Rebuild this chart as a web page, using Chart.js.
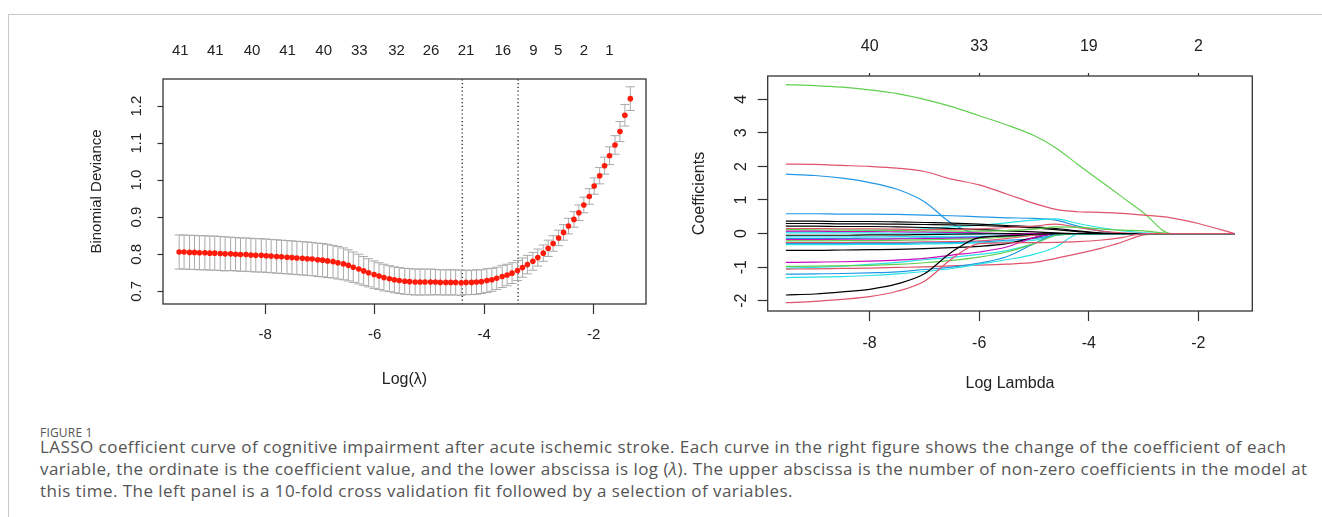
<!DOCTYPE html>
<html>
<head>
<meta charset="utf-8">
<script src="https://cdn.jsdelivr.net/npm/chart.js@4.4.1/dist/chart.umd.min.js"></script>
<style>
    body { margin: 0; background: #fff; width: 1322px; height: 517px; overflow: hidden; position: relative; }
    #panelIzq { position: absolute; left: 0; top: 0; }
    #panelDer { position: absolute; left: 660px; top: 0; }
    #marco { position: absolute; left: 8px; top: 14px; width: 1320px; height: 520px; border-left: 1px solid #c8c8c8; border-top: 1px solid #c8c8c8; }
    #rotulo { position: absolute; left: 40px; top: 424px; font: 12px "Open Sans", sans-serif; color: #555; letter-spacing: 0.2px; }
    #leyenda { position: absolute; left: 40px; top: 436px; width: 1280px; font: 17px/22px "Open Sans", sans-serif; color: #555; letter-spacing: 0.45px; white-space: nowrap; }
</style>
</head>
<body>
<div id="marco"></div>
<canvas id="panelIzq" width="660" height="400"></canvas>
<canvas id="panelDer" width="662" height="400"></canvas>
<div id="rotulo">FIGURE 1</div>
<div id="leyenda">LASSO coefficient curve of cognitive impairment after acute ischemic stroke. Each curve in the right figure shows the change of the coefficient of each<br>variable, the ordinate is the coefficient value, and the lower abscissa is log (<i>λ</i>). The upper abscissa is the number of non-zero coefficients in the model at<br>this time. The left panel is a 10-fold cross validation fit followed by a selection of variables.</div>

<script>
// Panel izquierdo: validacion cruzada
const logLambda = [
    -9.57, -9.48, -9.38, -9.29, -9.20, -9.10, -9.01, -8.92, -8.82, -8.73,
    -8.63, -8.54, -8.45, -8.35, -8.26, -8.17, -8.07, -7.98, -7.89, -7.79,
    -7.70, -7.60, -7.51, -7.42, -7.32, -7.23, -7.14, -7.04, -6.95, -6.86,
    -6.76, -6.67, -6.57, -6.48, -6.39, -6.29, -6.20, -6.11, -6.01, -5.92,
    -5.83, -5.73, -5.64, -5.55, -5.45, -5.36, -5.26, -5.17, -5.08, -4.98,
    -4.89, -4.80, -4.70, -4.61, -4.52, -4.42, -4.33, -4.23, -4.14, -4.05,
    -3.95, -3.86, -3.77, -3.67, -3.58, -3.49, -3.39, -3.30, -3.21, -3.11,
    -3.02, -2.92, -2.83, -2.74, -2.64, -2.55, -2.46, -2.36, -2.27, -2.18,
    -2.08, -1.99, -1.89, -1.80, -1.71, -1.61, -1.52, -1.43, -1.33
];
const cvMedia = [
    0.806, 0.806, 0.805, 0.805, 0.804, 0.804, 0.803, 0.803, 0.802, 0.801,
    0.801, 0.800, 0.799, 0.799, 0.798, 0.797, 0.797, 0.796, 0.795, 0.794,
    0.793, 0.792, 0.791, 0.790, 0.789, 0.788, 0.787, 0.785, 0.784, 0.782,
    0.780, 0.777, 0.774, 0.770, 0.765, 0.760, 0.755, 0.750, 0.745, 0.741,
    0.737, 0.734, 0.731, 0.729, 0.727, 0.726, 0.725, 0.725, 0.725, 0.725,
    0.725, 0.724, 0.724, 0.724, 0.724, 0.723, 0.724, 0.724, 0.725, 0.726,
    0.729, 0.731, 0.735, 0.740, 0.744, 0.749, 0.756, 0.764, 0.772, 0.781,
    0.791, 0.803, 0.816, 0.829, 0.844, 0.859, 0.876, 0.894, 0.912, 0.933,
    0.956, 0.984, 1.012, 1.039, 1.066, 1.095, 1.131, 1.175, 1.220
];
const cvError = [
    0.046, 0.046, 0.046, 0.046, 0.046, 0.046, 0.046, 0.046, 0.046, 0.046,
    0.045, 0.045, 0.045, 0.045, 0.045, 0.045, 0.045, 0.045, 0.045, 0.045,
    0.045, 0.045, 0.045, 0.045, 0.045, 0.045, 0.045, 0.045, 0.045, 0.045,
    0.044, 0.044, 0.043, 0.042, 0.041, 0.040, 0.039, 0.038, 0.037, 0.036,
    0.036, 0.035, 0.035, 0.035, 0.035, 0.035, 0.035, 0.035, 0.035, 0.035,
    0.034, 0.034, 0.034, 0.034, 0.034, 0.034, 0.033, 0.033, 0.033, 0.032,
    0.032, 0.031, 0.030, 0.030, 0.029, 0.028, 0.027, 0.026, 0.025, 0.024,
    0.023, 0.022, 0.022, 0.021, 0.021, 0.021, 0.021, 0.021, 0.021, 0.021,
    0.021, 0.022, 0.022, 0.023, 0.024, 0.025, 0.027, 0.029, 0.032
];
const lambdaMin = -4.40;
const lambda1se = -3.38;
const topPosIzq = [-9.55, -8.91, -8.24, -7.59, -6.93, -6.28, -5.60, -4.97, -4.33, -3.66, -3.10, -2.65, -2.18, -1.71];
const topNumIzq = ["41", "41", "40", "41", "40", "33", "32", "26", "21", "16", "9", "5", "2", "1"];
const ticksX = [-8, -6, -4, -2];
const ticksYIzq = [0.7, 0.8, 0.9, 1.0, 1.1, 1.2];

// Panel derecho: trayectorias de coeficientes
const nudosLogLambda = [-9.53, -9.0, -8.5, -8.0, -7.5, -7.0, -6.5, -6.0, -5.5, -5.0, -4.6, -4.2, -3.8, -3.4, -3.0, -2.5, -2.0, -1.34];
const topPosDer = [-8, -6, -4, -2];
const topNumDer = ["40", "33", "19", "2"];
const ticksYDer = [-2, -1, 0, 1, 2, 3, 4];
const coefColores = [
    "#61D04F", "#DF536B", "#2297E6", "#2297E6", "#28E2E5", "#000000", "#000000", "#000000", "#DF536B", "#61D04F",
    "#CD0BBC", "#28E2E5", "#000000", "#28E2E5", "#2297E6", "#CD0BBC", "#61D04F", "#DF536B", "#2297E6", "#28E2E5",
    "#000000", "#CD0BBC", "#28E2E5", "#DF536B", "#2297E6", "#28E2E5", "#61D04F", "#000000", "#DF536B"
];
const coefTrayectorias = [
    [4.44, 4.41, 4.36, 4.28, 4.17, 4.00, 3.78, 3.51, 3.24, 2.92, 2.55, 2.06, 1.58, 1.10, 0.62, 0, 0, 0],
    [2.07, 2.06, 2.03, 2.00, 1.95, 1.85, 1.62, 1.45, 1.18, 0.90, 0.72, 0.65, 0.63, 0.60, 0.55, 0.47, 0.30, 0],
    [1.77, 1.73, 1.65, 1.52, 1.32, 0.95, 0.30, 0, 0, 0, 0, 0, 0, 0, 0, 0, 0, 0],
    [0.59, 0.59, 0.58, 0.58, 0.57, 0.55, 0.53, 0.50, 0.47, 0.45, 0.40, 0.22, 0.08, 0.01, 0, 0, 0, 0],
    [0.05, 0.05, 0.06, 0.08, 0.10, 0.14, 0.20, 0.25, 0.32, 0.40, 0.44, 0.30, 0.18, 0.09, 0.02, 0, 0, 0],
    [0.37, 0.37, 0.36, 0.36, 0.35, 0.33, 0.31, 0.28, 0.24, 0.20, 0.15, 0.08, 0.02, 0, 0, 0, 0, 0],
    [0.30, 0.30, 0.29, 0.29, 0.28, 0.27, 0.26, 0.24, 0.21, 0.17, 0.12, 0.06, 0.01, 0, 0, 0, 0, 0],
    [0.22, 0.22, 0.21, 0.21, 0.20, 0.18, 0.15, 0.12, 0.08, 0.05, 0.02, 0, 0, 0, 0, 0, 0, 0],
    [0.15, 0.15, 0.14, 0.14, 0.13, 0.12, 0.12, 0.14, 0.18, 0.22, 0.28, 0.18, 0.08, 0.02, 0, 0, 0, 0],
    [0.12, 0.11, 0.10, 0.10, 0.09, 0.08, 0.07, 0.07, 0.09, 0.13, 0.20, 0.19, 0.14, 0.10, 0.08, 0, 0, 0],
    [0.07, 0.07, 0.06, 0.06, 0.05, 0.04, 0.03, 0.02, 0, 0, 0, 0, 0, 0, 0, 0, 0, 0],
    [0.02, 0.02, 0.02, 0.02, 0.01, 0.01, 0, 0, 0, 0, 0, 0, 0, 0, 0, 0, 0, 0],
    [-0.05, -0.05, -0.05, -0.04, -0.04, -0.03, -0.02, -0.01, 0, 0, 0, 0, 0, 0, 0, 0, 0, 0],
    [-0.10, -0.10, -0.10, -0.10, -0.09, -0.09, -0.08, -0.08, -0.07, -0.05, 0, 0, 0, 0, 0, 0, 0, 0],
    [-0.15, -0.15, -0.15, -0.14, -0.14, -0.13, -0.12, -0.10, -0.08, -0.04, 0, 0, 0, 0, 0, 0, 0, 0],
    [-0.18, -0.18, -0.17, -0.17, -0.16, -0.15, -0.14, -0.12, -0.05, 0, 0, 0, 0, 0, 0, 0, 0, 0],
    [-0.22, -0.22, -0.21, -0.21, -0.20, -0.19, -0.17, -0.15, -0.10, -0.05, 0, 0, 0, 0, 0, 0, 0, 0],
    [-0.27, -0.27, -0.27, -0.26, -0.26, -0.25, -0.24, -0.22, -0.15, -0.05, 0, 0, 0, 0, 0, 0, 0, 0],
    [-0.30, -0.30, -0.30, -0.29, -0.29, -0.28, -0.27, -0.25, -0.20, -0.15, -0.05, 0, 0, 0, 0, 0, 0, 0],
    [-0.33, -0.33, -0.33, -0.32, -0.32, -0.31, -0.30, -0.28, -0.25, -0.20, -0.05, 0, 0, 0, 0, 0, 0, 0],
    [-0.50, -0.50, -0.49, -0.48, -0.47, -0.45, -0.42, -0.38, -0.30, -0.12, 0, 0, 0, 0, 0, 0, 0, 0],
    [-0.86, -0.85, -0.84, -0.82, -0.79, -0.74, -0.64, -0.55, -0.40, -0.12, 0, 0, 0, 0, 0, 0, 0, 0],
    [-1.03, -1.01, -0.97, -0.92, -0.86, -0.78, -0.71, -0.62, -0.51, -0.30, -0.05, 0, 0, 0, 0, 0, 0, 0],
    [-1.06, -1.05, -1.04, -1.03, -1.01, -0.99, -0.96, -0.94, -0.91, -0.86, -0.74, -0.60, -0.45, -0.26, -0.04, 0, 0, 0],
    [-1.21, -1.20, -1.19, -1.17, -1.14, -1.07, -1.00, -0.88, -0.69, -0.30, -0.02, 0, 0, 0, 0, 0, 0, 0],
    [-1.31, -1.30, -1.28, -1.25, -1.20, -1.13, -1.04, -0.91, -0.78, -0.62, -0.40, -0.02, 0, 0, 0, 0, 0, 0],
    [-0.98, -0.97, -0.96, -0.95, -0.92, -0.87, -0.80, -0.70, -0.55, -0.30, -0.05, 0, 0, 0, 0, 0, 0, 0],
    [-1.83, -1.80, -1.74, -1.66, -1.50, -1.20, -0.55, -0.12, -0.07, -0.02, 0, 0, 0, 0, 0, 0, 0, 0],
    [-2.06, -2.02, -1.96, -1.88, -1.72, -1.42, -0.75, -0.30, -0.28, -0.27, -0.26, -0.24, -0.20, -0.12, 0, 0, 0, 0]
];

Chart.defaults.font.family = "'Liberation Sans', Arial, sans-serif";
Chart.defaults.color = "#222";

const colorTexto = "#222";
const colorEje = "#333";

// caja alrededor del area de trazado, como box() de R
const marcoCaja = {
    id: "marcoCaja",
    afterDatasetsDraw(chart) {
        const { ctx, chartArea: a } = chart;
        ctx.save();
        ctx.strokeStyle = colorEje;
        ctx.lineWidth = 1.3;
        ctx.strokeRect(a.left, a.top, a.right - a.left, a.bottom - a.top);
        ctx.restore();
    },
};

function ejeX(min, max, opciones) {
    return {
        type: "linear",
        position: opciones.position,
        min,
        max,
        afterBuildTicks: (s) => { s.ticks = opciones.posiciones.map((v) => ({ value: v })); },
        afterFit: (s) => { s.height = opciones.alto; },
        border: { display: false },
        grid: {
            display: opciones.tick > 0,
            drawOnChartArea: false,
            drawTicks: opciones.tick > 0,
            tickLength: opciones.tick,
            tickColor: colorEje,
            tickWidth: 1.2,
        },
        ticks: {
            autoSkip: false,
            maxRotation: 0,
            padding: opciones.padding,
            color: colorTexto,
            font: { size: opciones.fuente },
            callback: (v, i) => (opciones.etiquetas ? opciones.etiquetas[i] : String(v)),
        },
        title: opciones.titulo
            ? { display: true, text: opciones.titulo, color: colorTexto, font: { size: 16 }, padding: { top: 0, bottom: opciones.tituloPad } }
            : { display: false },
    };
}

function ejeY(min, max, opciones) {
    return {
        type: "linear",
        position: "left",
        min,
        max,
        afterBuildTicks: (s) => { s.ticks = opciones.posiciones.map((v) => ({ value: v })); },
        afterFit: (s) => { s.width = opciones.ancho; },
        border: { display: false },
        grid: { drawOnChartArea: false, drawTicks: true, tickLength: opciones.tick, tickColor: colorEje, tickWidth: 1.2 },
        ticks: {
            minRotation: 90,
            maxRotation: 90,
            crossAlign: "center",
            padding: opciones.padding,
            color: colorTexto,
            font: { size: opciones.fuente },
            callback: opciones.formato,
        },
        title: { display: true, text: opciones.titulo, color: colorTexto, font: { size: opciones.fuenteTitulo }, padding: { top: opciones.tituloPad, bottom: 0 } },
    };
}

//Grafico de desviacion binomial
function dibujarPanelIzq() {
    const anchoTapa = 0.0824;
    const barras = [];
    const tapas = [];
    logLambda.forEach((x, i) => {
        const arriba = cvMedia[i] + cvError[i];
        const abajo = cvMedia[i] - cvError[i];
        barras.push({ x, y: abajo }, { x, y: arriba }, { x, y: null });
        tapas.push({ x: x - anchoTapa, y: arriba }, { x: x + anchoTapa, y: arriba }, { x, y: null });
        tapas.push({ x: x - anchoTapa, y: abajo }, { x: x + anchoTapa, y: abajo }, { x, y: null });
    });

    new Chart(document.getElementById("panelIzq"), {
        type: "line",
        data: {
            datasets: [
                {
                    data: logLambda.map((x, i) => ({ x, y: cvMedia[i] })),
                    showLine: false,
                    pointRadius: 2.8,
                    pointBackgroundColor: "#FF1A0A",
                    pointBorderWidth: 0,
                },
                { data: barras, borderColor: "#A9A9A9", borderWidth: 1, pointRadius: 0, spanGaps: false },
                { data: tapas, borderColor: "#A9A9A9", borderWidth: 1, pointRadius: 0, spanGaps: false },
                {
                    data: [{ x: lambdaMin, y: 0.5 }, { x: lambdaMin, y: 1.4 }],
                    borderColor: "#111", borderWidth: 1.2, borderDash: [1.2, 2.6], pointRadius: 0,
                },
                {
                    data: [{ x: lambda1se, y: 0.5 }, { x: lambda1se, y: 1.4 }],
                    borderColor: "#111", borderWidth: 1.2, borderDash: [1.2, 2.6], pointRadius: 0,
                },
            ],
        },
        options: {
            responsive: false,
            animation: false,
            layout: { padding: { left: 0, top: 0, right: 14, bottom: 0 } },
            plugins: { legend: { display: false }, tooltip: { enabled: false } },
            scales: {
                x: ejeX(-9.865, -1.044, { position: "bottom", posiciones: ticksX, alto: 96, tick: 10, padding: 12, fuente: 15, titulo: "Log(λ)", tituloPad: 10.4 }),
                xTop: ejeX(-9.865, -1.044, { position: "top", posiciones: topPosIzq, etiquetas: topNumIzq, alto: 79, tick: 0, padding: 19.3, fuente: 15 }),
                y: ejeY(0.6657, 1.273, {
                    posiciones: ticksYIzq, ancho: 163, tick: 5.5, padding: 10, fuente: 15,
                    formato: (v) => v.toFixed(1), titulo: "Binomial Deviance", fuenteTitulo: 15, tituloPad: 87.7,
                }),
            },
        },
        plugins: [marcoCaja],
    });
}

//Grafico de coeficientes
function dibujarPanelDer() {
    const n = coefTrayectorias.length;
    const conjuntos = coefTrayectorias.map((fila, i) => ({
        data: nudosLogLambda.map((x, j) => ({ x, y: fila[j] })),
        borderColor: coefColores[i],
        borderWidth: 1.2,
        pointRadius: 0,
        cubicInterpolationMode: "monotone",
        order: n - i,
    }));

    new Chart(document.getElementById("panelDer"), {
        type: "line",
        data: { datasets: conjuntos },
        options: {
            responsive: false,
            animation: false,
            layout: { padding: { left: 0, top: 0, right: 69.7, bottom: 0 } },
            plugins: { legend: { display: false }, tooltip: { enabled: false } },
            scales: {
                x: ejeX(-9.861, -1.015, { position: "bottom", posiciones: ticksX, alto: 89, tick: 10, padding: 12.7, fuente: 16, titulo: "Log Lambda", tituloPad: 7.1 }),
                xTop: ejeX(-9.861, -1.015, { position: "top", posiciones: topPosDer, etiquetas: topNumDer, alto: 76, tick: 3, padding: 16.7, fuente: 16 }),
                y: ejeY(-2.307, 4.694, {
                    posiciones: ticksYDer, ancho: 107.7, tick: 10, padding: 9.3, fuente: 16,
                    formato: (v) => String(v), titulo: "Coefficients", fuenteTitulo: 16, tituloPad: 30.4,
                }),
            },
        },
        plugins: [marcoCaja],
    });
}

dibujarPanelIzq();
dibujarPanelDer();
</script>
</body>
</html>
